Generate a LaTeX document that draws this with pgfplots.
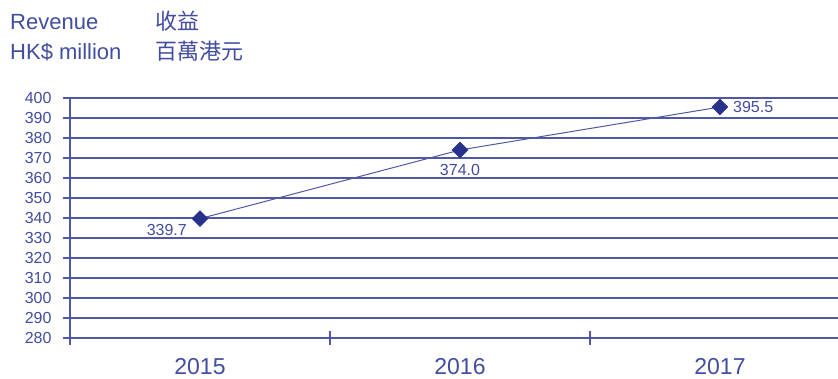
\documentclass[border=0pt]{standalone}
\usepackage{pgfplots}
\pgfplotsset{compat=1.18}
\usepackage{fontspec}
\setmainfont{Liberation Sans}
\newfontfamily\cjk{Noto Sans CJK TC}
\definecolor{gridc}{RGB}{80,88,165}
\definecolor{markc}{RGB}{38,50,140}
\definecolor{txtc}{RGB}{66,76,160}
\begin{document}
\begin{tikzpicture}
\path[use as bounding box] (-70bp,-41bp) rectangle (768bp,338bp);
\begin{axis}[
  at={(0,0)}, anchor=south west,
  scale only axis, width=768bp, height=240bp,
  xmin=-0.5, xmax=2.454, ymin=280, ymax=400,
  axis lines*=left,
  axis line style={gridc, line width=1.1bp},
  ytick={280,290,...,400},
  ymajorgrids, grid style={gridc, line width=1.1bp},
  ytick style={gridc, line width=1.1bp},
  xtick={0,1,2}, xticklabels={2015,2016,2017},
  xtick style={draw=none},
  extra x ticks={-0.5,0.5,1.5}, extra x tick labels={},
  extra x tick style={xtick style={draw=gridc, line width=1.1bp}, major tick length=13bp, tick align=center},
  major tick length=7bp, tick align=outside,
  /pgf/number format/assume math mode=true,
  yticklabel style={font=\fontsize{16bp}{16bp}\selectfont, text=txtc, xshift=-8bp},
  xticklabel style={font=\fontsize{23bp}{23bp}\selectfont, text=txtc, anchor=base, inner sep=0pt, yshift=-29.5bp},
  clip=false,
]
\addplot[gridc, line width=1bp, mark=square*, mark size=5.6bp,
  mark options={rotate=45, fill=markc, draw=markc, line width=0.5bp}]
  coordinates {(0,339.7) (1,374.0) (2,395.5)};
\begin{scope}[every node/.style={font=\fontsize{16bp}{16bp}\selectfont, text=txtc, inner sep=0pt}]
\node[anchor=east] at ([xshift=-13bp,yshift=-11bp]axis cs:0,339.7) {339.7};
\node[anchor=center] at ([yshift=-20bp]axis cs:1,374.0) {374.0};
\node[anchor=west] at ([xshift=13bp]axis cs:2,395.5) {395.5};
\end{scope}
\end{axis}
\begin{scope}[every node/.style={text=txtc, inner sep=0pt, anchor=base west}]
\node[font=\fontsize{22bp}{22bp}\selectfont] at (-60bp,308bp) {Revenue};
\node[font=\fontsize{22bp}{22bp}\selectfont] at (-60bp,278bp) {HK\$ million};
\node[font=\fontsize{22bp}{22bp}\selectfont\cjk] at (85bp,308bp) {收益};
\node[font=\fontsize{22bp}{22bp}\selectfont\cjk] at (85bp,278bp) {百萬港元};
\end{scope}
\end{tikzpicture}
\end{document}
